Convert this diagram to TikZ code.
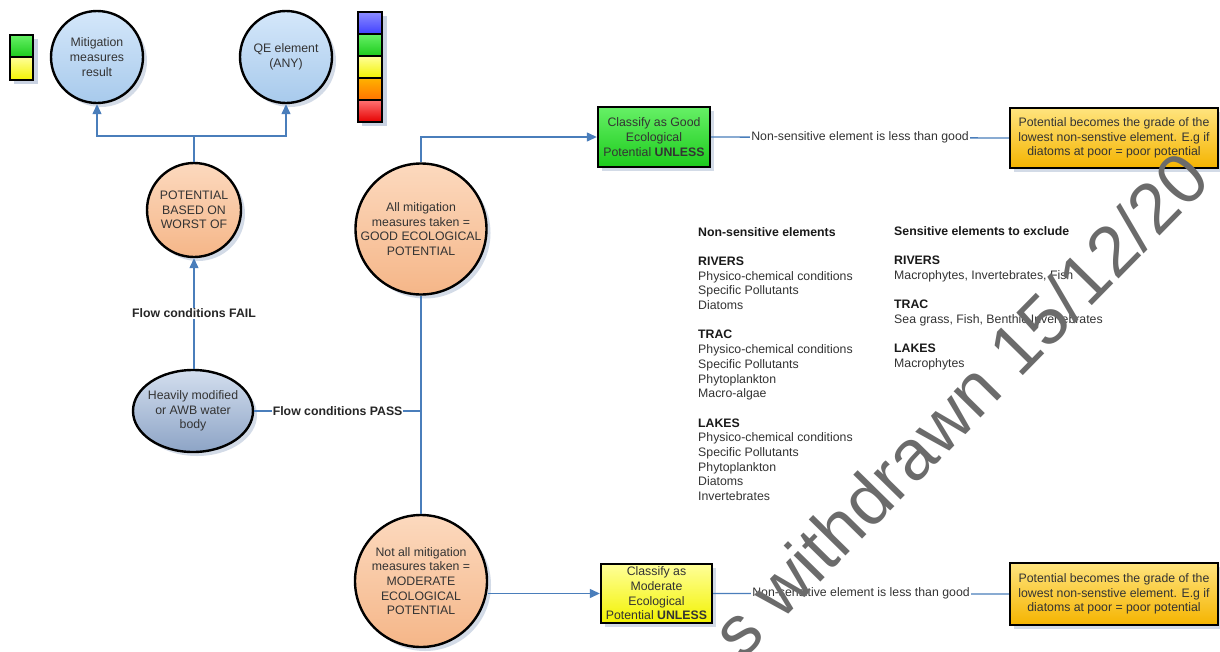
\documentclass[tikz,border=0pt]{standalone}
\usepackage{fontspec}
\setmainfont{Liberation Sans}
\usetikzlibrary{shapes.geometric,arrows.meta,shadows}
\definecolor{conncol}{HTML}{4A7EBB}
\definecolor{txtc}{HTML}{333333}
\definecolor{shadowc}{HTML}{C9D2E2}
\definecolor{cblueT}{HTML}{D4E7FA}
\definecolor{cblueB}{HTML}{A8CAEC}
\definecolor{peachT}{HTML}{FCD9BE}
\definecolor{peachB}{HTML}{F5B688}
\definecolor{ellT}{HTML}{D3DEEE}
\definecolor{ellB}{HTML}{8DA4C6}
\definecolor{greenT}{HTML}{66F066}
\definecolor{greenB}{HTML}{1CCB1C}
\definecolor{yelT}{HTML}{FFFF99}
\definecolor{yelB}{HTML}{F2F200}
\definecolor{orT}{HTML}{FFE47E}
\definecolor{orB}{HTML}{F5B400}
\definecolor{wmc}{HTML}{6B6B6B}
\begin{document}
\begin{tikzpicture}[x=1pt,y=-1pt,
  txt/.style={font=\fontsize{12.3}{14.7}\selectfont, text=txtc, align=center, inner sep=0pt},
  shad/.style={drop shadow={shadow xshift=4pt,shadow yshift=-4pt,fill=shadowc,opacity=0.8}},
  circ/.style={circle, draw=black, line width=2.4pt, inner sep=0pt, shad},
  bluec/.style={circ, top color=cblueT, bottom color=cblueB},
  peach/.style={circ, top color=peachT, bottom color=peachB},
  boxs/.style={rectangle, draw=black, line width=2.4pt, inner sep=0pt, shad},
  conn/.style={draw=conncol, line width=1.3pt},
  arr/.style={conn, -{Triangle[length=10pt,width=9pt]}},
  lbl/.style={font=\fontsize{12.3}{14.7}\selectfont\bfseries, text=black!85, fill=white, inner sep=1pt},
  nlbl/.style={font=\fontsize{12.3}{14.7}\selectfont, text=txtc, fill=white, inner sep=1pt},
  colh/.style={font=\fontsize{12.3}{14.7}\selectfont\bfseries, text=black!90, inner sep=0pt},
  colt/.style={font=\fontsize{12.3}{14.7}\selectfont, text=txtc, inner sep=0pt},
  sq/.style={draw=black, line width=2pt}
]
\useasboundingbox (0,0) rectangle (1220,651);
\fill[white] (0,0) rectangle (1220,651);
\clip (0,0) rectangle (1220,651);

% colour bars
\fill[shadowc] (14,39) rectangle (38,84);
\shadedraw[sq, top color=greenT, bottom color=greenB] (10,35) rectangle (33,57);
\shadedraw[sq, top color=yelT, bottom color=yelB] (10,57) rectangle (33,80);

\fill[shadowc] (362,16) rectangle (387,126);
\shadedraw[sq, top color=blue!45!white, bottom color=blue!75!white] (358,12) rectangle (382,34);
\shadedraw[sq, top color=greenT, bottom color=greenB] (358,34) rectangle (382,56);
\shadedraw[sq, top color=yelT, bottom color=yelB] (358,56) rectangle (382,78);
\shadedraw[sq, top color=orange!60!yellow, bottom color=orange!90!red] (358,78) rectangle (382,100);
\shadedraw[sq, top color=red!55!white, bottom color=red!90!black] (358,100) rectangle (382,122);

% shapes
\node[bluec, minimum size=92pt] (m) at (97,57) {};
\node[txt] (mt) at (m) {Mitigation\\measures\\result};
\node[bluec, minimum size=92pt] (q) at (286,57) {};
\node[txt] (qt) at (q) {QE element\\(ANY)};
\node[peach, minimum size=94pt] (p) at (194,210) {};
\node[txt] (pt) at (p) {POTENTIAL\\BASED ON\\WORST OF};
\node[peach, minimum size=131pt] (g) at (421,229) {};
\node[txt] (gt) at (g) {All mitigation\\measures taken =\\GOOD ECOLOGICAL\\POTENTIAL};
\node[peach, minimum size=132pt] (mod) at (421,581) {};
\node[txt] (modt) at (mod) {Not all mitigation\\measures taken =\\MODERATE\\ECOLOGICAL\\POTENTIAL};
\node[ellipse, draw=black, line width=2.4pt, inner sep=0pt, shad, top color=ellT, bottom color=ellB,
      minimum width=120pt, minimum height=82pt] (h) at (193,411) {};
\node[txt] (ht) at (h) {Heavily modified\\or AWB water\\body};

\node[boxs, top color=greenT, bottom color=greenB, minimum width=112pt, minimum height=60pt] (gb) at (654,137) {};
\node[txt] (gbt) at (gb) {Classify as Good\\Ecological\\Potential \textbf{UNLESS}};
\node[boxs, top color=yelT, bottom color=yelB, minimum width=111pt, minimum height=59pt] (yb) at (656.5,593.5) {};
\node[txt] (ybt) at (yb) {Classify as\\Moderate\\Ecological\\Potential \textbf{UNLESS}};
\node[boxs, top color=orT, bottom color=orB, minimum width=208pt, minimum height=60pt] (ob1) at (1114,138) {};
\node[txt] (ob1t) at (ob1) {Potential becomes the grade of the\\lowest non-senstive element. E.g if\\diatoms at poor = poor potential};
\node[boxs, top color=orT, bottom color=orB, minimum width=208pt, minimum height=62pt] (ob2) at (1114,594) {};
\node[txt] (ob2t) at (ob2) {Potential becomes the grade of the\\lowest non-senstive element. E.g if\\diatoms at poor = poor potential};

% connectors
\coordinate (j1) at (194,136);
\coordinate (j2) at (421,411);
\draw[conn] (p.north) -- (j1);
\draw[arr] (j1) -| (m.south);
\draw[arr] (j1) -| (q.south);
\draw[arr] (h.north -| p.south) -- node[lbl] (fail) {Flow conditions FAIL} (p.south);
\draw[conn] (g.south) -- (mod.north);
\draw[conn] (h.east) -- node[lbl] (pass) {Flow conditions PASS} (j2);
\draw[arr] (g.north) |- (gb.west);
\draw[arr] (mod.east |- yb.west) -- (yb.west);
\draw[conn] (gb.east) -- node[nlbl] (ns1) {Non-sensitive element is less than good} (ob1.west);
\draw[conn] (yb.east) -- node[nlbl] (ns2) {Non-sensitive element is less than good} (ob2.west);

% element lists
\foreach \k/\s/\t [count=\i] in {0/colh/Non-sensitive elements, 2/colh/RIVERS, 3/colt/Physico-chemical conditions,
  4/colt/Specific Pollutants, 5/colt/Diatoms, 7/colh/TRAC, 8/colt/Physico-chemical conditions,
  9/colt/Specific Pollutants, 10/colt/Phytoplankton, 11/colt/Macro-algae, 13/colh/LAKES,
  14/colt/Physico-chemical conditions, 15/colt/Specific Pollutants, 16/colt/Phytoplankton,
  17/colt/Diatoms, 18/colt/Invertebrates}
  \node[\s, anchor=base west] (la\i) at (698,236+14.7*\k) {\t};
\foreach \k/\s/\t [count=\i] in {0/colh/Sensitive elements to exclude, 2/colh/RIVERS,
  3/colt/{Macrophytes, Invertebrates, Fish}, 5/colh/TRAC, 6/colt/{Sea grass, Fish, Benthic Invertebrates},
  8/colh/LAKES, 9/colt/Macrophytes}
  \node[\s, anchor=base west] (lb\i) at (894,235+14.7*\k) {\t};

% watermark
\node[font=\fontsize{71}{71}\selectfont, text=wmc, inner sep=0pt, rotate=45.5] (wmk) at (960,404) {s withdrawn 15/12/20};
\end{tikzpicture}
\end{document}
